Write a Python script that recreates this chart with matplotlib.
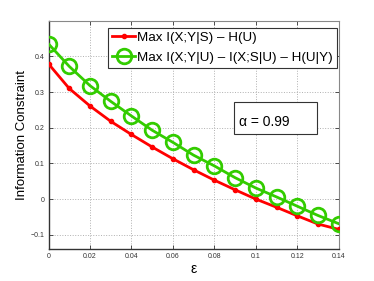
import matplotlib
matplotlib.use("Agg")
import matplotlib.pyplot as plt
from matplotlib.patches import Rectangle

eps = [0, 0.01, 0.02, 0.03, 0.04, 0.05, 0.06, 0.07, 0.08, 0.09, 0.10, 0.11, 0.12, 0.13, 0.14]
red_vals = [0.379, 0.310, 0.261, 0.218, 0.181, 0.146, 0.113, 0.082, 0.053, 0.026, 0.000, -0.023, -0.047, -0.070, -0.085]
green_vals = [0.435, 0.372, 0.318, 0.274, 0.233, 0.193, 0.159, 0.123, 0.093, 0.060, 0.031, 0.006, -0.020, -0.046, -0.069]
red_label = "Max I(X;Y|S) \u2013 H(U)"
green_label = "Max I(X;Y|U) \u2013 I(X;S|U) \u2013 H(U|Y)"
xticks = [0, 0.02, 0.04, 0.06, 0.08, 0.1, 0.12, 0.14]
xtick_labels = ["0", "0.02", "0.04", "0.06", "0.08", "0.1", "0.12", "0.14"]
yticks = [-0.1, 0, 0.1, 0.2, 0.3, 0.4]
ytick_labels = ["\u22120.1", "0", "0.1", "0.2", "0.3", "0.4"]
annot = "\u03b1 = 0.99"

plt.rcParams['font.family'] = ['Liberation Sans', 'DejaVu Sans']
fig = plt.figure(figsize=(3.74, 2.81), dpi=100)
ax = fig.add_axes([0.1297, 0.1139, 0.7759, 0.8124])

ax.plot(eps, red_vals, color='#ff0000', lw=2, marker='.', markersize=6, label=red_label, zorder=3)
ax.plot(eps, green_vals, color='#33cc00', lw=2, marker='o', markersize=10.5, markerfacecolor='none',
        markeredgewidth=2, label=green_label, zorder=4)

ax.set_xlim(0, 0.14)
ax.set_ylim(-0.14, 0.5)
ax.set_xticks(xticks)
ax.set_xticklabels(xtick_labels)
ax.set_yticks(yticks)
ax.set_yticklabels(ytick_labels)
ax.tick_params(direction='in', labelsize=5, length=3, width=0.6, colors='#333333', top=True, right=True, pad=3)
ax.grid(True, linestyle=':', color='#b0b0b0', lw=0.7)
for s in ['left', 'bottom']:
    ax.spines[s].set_color('#333333')
    ax.spines[s].set_linewidth(1)
for s in ['top', 'right']:
    ax.spines[s].set_color('#888888')
    ax.spines[s].set_linewidth(0.8)

ax.set_xlabel("\u03b5", fontsize=10, labelpad=1)
ax.set_ylabel("Information Constraint", fontsize=9.5)
ax.yaxis.set_label_coords(-0.071, 0.5)

leg = ax.legend(loc='upper right', bbox_to_anchor=(0.994, 0.969), fontsize=9.6, frameon=True, fancybox=False,
                handlelength=1.75, handletextpad=0.15, borderpad=0.3, labelspacing=0.55, borderaxespad=0)
leg.get_frame().set_edgecolor('#333333')
leg.get_frame().set_linewidth(0.8)
leg.get_frame().set_alpha(1)

ax.add_patch(Rectangle((0.639, 0.504), 0.287, 0.139, transform=ax.transAxes, facecolor='white',
                       edgecolor='#333333', lw=0.8, zorder=5))
ax.text(0.658, 0.557, annot, fontsize=10, transform=ax.transAxes, va='center', ha='left', zorder=6)

fig.savefig("out.png", dpi=100)
